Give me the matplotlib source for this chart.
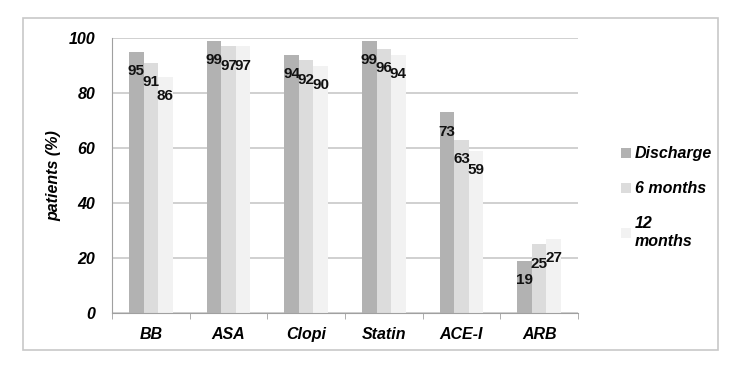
import matplotlib.pyplot as plt
import numpy as np
from matplotlib.patches import Rectangle

plt.rcParams['font.family'] = ['Liberation Sans', 'DejaVu Sans']

categories = ['BB', 'ASA', 'Clopi', 'Statin', 'ACE-I', 'ARB']
series_names = ['Discharge', '6 months', '12\nmonths']
discharge = [95, 99, 94, 99, 73, 19]
six_months = [91, 97, 92, 96, 63, 25]
twelve_months = [86, 97, 90, 94, 59, 27]
y_ticks = [0, 20, 40, 60, 80, 100]

colors = ['#b2b2b2', '#dcdcdc', '#f2f2f2']

fig = plt.figure(figsize=(7.4, 3.7), dpi=100)
fig.patch.set_facecolor('white')

# outer frame around the whole chart
fig.patches.append(Rectangle((23 / 740, 1 - 350 / 370), 695 / 740, 332 / 370,
                             transform=fig.transFigure, fill=False,
                             edgecolor='#c8c8c8', linewidth=1.2))

ax = fig.add_axes([112 / 740, 1 - 313 / 370, 466 / 740, 275 / 370])

x = np.arange(len(categories))
width = 0.187
handles = []
for i, (vals, name) in enumerate(zip([discharge, six_months, twelve_months], series_names)):
    pos = x + (i - 1) * width
    bars = ax.bar(pos, vals, width, color=colors[i], label=name, zorder=2)
    handles.append(bars)
    for px, v in zip(pos, vals):
        ax.annotate(str(v), (px, v), xytext=(0, -9), textcoords='offset points',
                    ha='center', va='top', fontsize=11, fontweight='bold',
                    color='#111111', zorder=3)

ax.set_xlim(-0.5, len(categories) - 0.5)
ax.set_ylim(0, 100)
ax.set_yticks(y_ticks)
ax.set_yticklabels([str(t) for t in y_ticks], fontsize=11.5, fontweight='bold', fontstyle='italic')
ax.yaxis.grid(True, color='#c8c8c8', linewidth=1.2, zorder=0)
ax.set_axisbelow(True)

ax.set_xticks(x)
ax.set_xticklabels(categories, fontsize=11.5, fontweight='bold', fontstyle='italic')
ax.tick_params(axis='x', length=0, pad=10)
ax.set_xticks(np.arange(len(categories) + 1) - 0.5, minor=True)
ax.tick_params(axis='x', which='minor', length=4, color='#a0a0a0')
ax.tick_params(axis='y', length=0, pad=12)

for side in ['top', 'right']:
    ax.spines[side].set_visible(False)
ax.spines['left'].set_color('#a0a0a0')
ax.spines['bottom'].set_color('#a0a0a0')

ax.set_ylabel('patients (%)', fontsize=11.5, fontweight='bold', fontstyle='italic', labelpad=5)

fig.legend(handles, series_names, loc='upper left', bbox_to_anchor=(607 / 740, 1 - 132 / 370),
           frameon=False, handlelength=0.6, handleheight=0.6, handletextpad=0.25,
           labelspacing=1.25, prop={'weight': 'bold', 'style': 'italic', 'size': 11.5})

fig.savefig('out.png', dpi=100)
